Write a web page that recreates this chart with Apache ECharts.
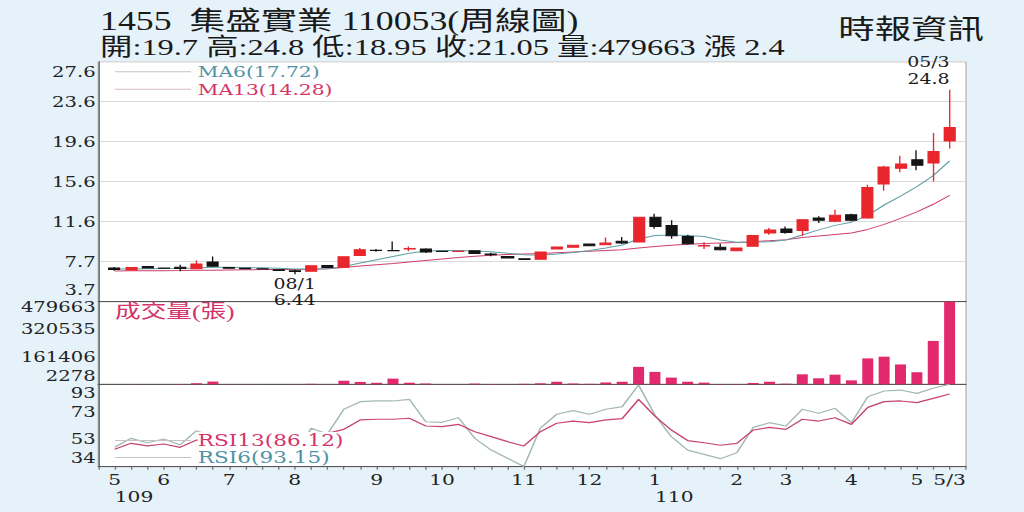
<!DOCTYPE html>
<html>
<head>
<meta charset="utf-8">
<title>1455 集盛實業 周線圖</title>
<script src="https://cdn.jsdelivr.net/npm/echarts@6/dist/echarts.min.js"></script>
<style>
html, body { margin: 0; padding: 0; background: #e6f2f9; overflow: hidden; }
#kline { height: 512px; transform-origin: 0 0; }
</style>
</head>
<body>
<div id="kline"></div>
<script>
// week ending dates, the last candle is the single day 05/03
var weeks = ['2020-05-16','2020-05-23','2020-05-30','2020-06-06','2020-06-13','2020-06-20','2020-06-27','2020-07-04','2020-07-11','2020-07-18',
  '2020-07-25','2020-08-01','2020-08-08','2020-08-15','2020-08-22','2020-08-29','2020-09-05','2020-09-12','2020-09-19','2020-09-26',
  '2020-10-03','2020-10-10','2020-10-17','2020-10-24','2020-10-31','2020-11-07','2020-11-14','2020-11-21','2020-11-28','2020-12-05',
  '2020-12-12','2020-12-19','2020-12-26','2021-01-02','2021-01-09','2021-01-16','2021-01-23','2021-01-30','2021-02-06','2021-02-13',
  '2021-02-20','2021-02-27','2021-03-06','2021-03-13','2021-03-20','2021-03-27','2021-04-03','2021-04-10','2021-04-17','2021-04-24',
  '2021-05-01','2021-05-03'];

var opens = [7.05,6.85,7.2,7.05,7.12,6.99,7.65,7.1,7.02,6.98, 6.88,6.78,6.72,7.3,7.12,8.31,8.82,8.8,8.95,8.95,
  8.72,8.69,8.78,8.45,8.2,7.98,7.92,8.95,9.11,9.45, 9.38,9.71,9.65,12.1,11.3,10.2,9.25,9.11,8.78,9.21,
  10.54,10.94,10.8,12.04,11.7,12.37,12.04,15.42,16.98,17.84, 17.51,19.7];
var closes = [6.9,7.1,7.05,7.03,7.0,7.45,7.22,7.04,6.98,6.95, 6.8,6.7,7.28,7.1,8.18,8.88,8.8,8.78,8.99,8.66,
  8.7,8.73,8.51,8.38,8.06,7.9,8.65,9.15,9.31,9.28, 9.55,9.55,12.1,11.2,10.27,9.48,9.3,8.88,9.05,10.3,
  10.84,10.6,11.87,11.8,12.3,11.8,15.08,17.12,17.42,17.28, 18.65,21.05];
var lows = [6.78,6.82,7.0,6.98,6.72,6.95,7.15,7.0,6.95,6.92, 6.76,6.44,6.7,7.05,7.08,8.28,8.68,8.74,8.72,8.55,
  8.66,8.66,8.45,8.22,8.0,7.85,7.88,8.92,9.08,9.25, 9.35,9.45,9.6,10.97,9.97,9.38,8.95,8.81,8.75,9.18,
  10.37,10.47,10.27,11.54,11.62,11.72,11.95,14.76,16.58,16.78, 15.68,18.95];
var highs = [7.15,7.16,7.26,7.08,7.38,7.81,8.2,7.12,7.05,7.0, 6.9,6.88,7.32,7.35,8.22,9.05,8.95,9.7,9.2,9.02,
  8.75,8.78,8.8,8.58,8.25,8.02,8.7,9.2,9.35,9.5, 10.1,10.14,12.15,12.46,11.8,10.37,9.61,9.48,9.1,10.35,
  11.04,11.2,11.94,12.2,12.86,12.46,15.35,17.25,18.24,18.77, 20.5,24.8];

var ma6 = [6.95,6.96,6.98,7.0,7.02,7.05,7.12,7.12,7.1,7.08, 7.02,6.95,6.95,6.98,7.2,7.55,7.88,8.2,8.52,8.75,
  8.8,8.8,8.76,8.68,8.52,8.38,8.32,8.45,8.6,8.8, 9.05,9.35,9.95,10.3,10.35,10.3,10.2,9.85,9.62,9.62,
  9.68,9.85,10.35,10.85,11.3,11.62,12.3,13.33,14.22,15.15, 16.25,17.72];
var ma13 = [6.76,6.77,6.78,6.79,6.8,6.82,6.84,6.86,6.88,6.9, 6.9,6.9,6.92,6.98,7.1,7.25,7.38,7.5,7.65,7.8,
  7.95,8.1,8.22,8.32,8.4,8.45,8.5,8.58,8.65,8.72, 8.8,8.88,9.05,9.2,9.32,9.42,9.5,9.55,9.6,9.68,
  9.78,9.88,10.1,10.25,10.4,10.55,10.9,11.4,12.0,12.65, 13.4,14.28];

var volumes = [2278,3000,2500,2800,4000,8500,18000,3500,3000,2600, 2500,3500,5000,3500,23000,16000,11000,35000,11500,7000,
  3500,3000,6500,4000,3000,5000,8000,17000,7000,5000, 13000,17000,103000,74000,41000,17000,12000,4000,4000,10000,
  17000,6000,60000,37000,58000,25000,152000,162000,117000,72000, 253000,479663];

var rsi6 = [47.6,54.1,50.9,53.6,49.3,59.6,55.3,50,48,47, 44,41,61.4,57.2,75.1,80.6,81.1,81.1,82.3,66.1,
  65.7,69.0,54.1,45.6,39.7,33.8,61.5,71.5,74.1,71.5, 75.1,77.0,92.6,71.0,55.3,45.6,42.5,39.4,43.7,62.0,
  65.4,63.0,75.1,72.2,75.8,65.4,84.2,88.3,89.0,86.6, 90.3,93.15];
var rsi13 = [46.2,50.5,48.6,50.0,47.6,52.9,52,50,49.5,49, 47.5,46,56,57.7,60.6,67.4,67.9,67.9,68.6,63.0,
  62.5,64.2,58.9,55.3,51.7,48.6,58.9,65.0,66.6,65.4, 67.4,68.3,82.3,70.2,60.1,52.5,50.9,49.1,50.5,60.1,
  62.0,60.6,67.9,66.6,69.0,64.2,76.5,80.6,81.1,79.9, 83.0,86.12];

var monthTickIdx = [0,3,7,11,16,20,25,29,33,38,41,45,49,51];
var monthTickText = ['5','6','7','8','9','10','11','12','1','2','3','4','5','5/3'];
var yearTickIdx = [0,33];
var yearTickText = ['109','110'];

var priceTicks = ['3.7','7.7','11.6','15.6','19.6','23.6','27.6'];
var volumeTicks = ['2278','161406','320535','479663'];
var rsiTicks = ['34','53','73','93'];

// the reference picture is stretched sideways, so is this one
var S = 1.35;
var W = 1024 / S;
function sx(px) { return px / S; }

var NUM_FONT = 'DejaVu Serif';
var CJK_FONT = '"Liberation Serif", "Noto Sans CJK TC"';
var PINK = '#d4346a';
var TEAL = '#4f93a5';

var candles = opens.map(function (o, i) { return [o, closes[i], lows[i], highs[i]]; });

function yLabels(list, min, max, padTop, padBottom) {
  var step = (max - min) / (list.length - 1);
  var base = { fontFamily: NUM_FONT, fontSize: 14.5, lineHeight: 14, color: '#222' };
  return {
    fontFamily: NUM_FONT, fontSize: 14.5, lineHeight: 14, color: '#222', margin: 2,
    formatter: function (v) {
      var k = Math.round((v - min) / step);
      var t = list[k];
      if (t == null) return '';
      if (k === list.length - 1 && padTop) return '{hi|' + t + '}';
      if (k === 0 && padBottom) return '{lo|' + t + '}';
      return t;
    },
    rich: {
      hi: Object.assign({ padding: [padTop, 0, 0, 0] }, base),
      lo: Object.assign({ padding: [0, 0, padBottom, 0] }, base)
    }
  };
}

function pick(idx, text) {
  return function (value) {
    var k = idx.indexOf(weeks.indexOf(value));
    return k < 0 ? '' : text[k];
  };
}

var gridBase = { left: sx(98.3), right: W - sx(966), show: true, backgroundColor: '#fff', borderColor: '#b5b5b5', borderWidth: 1 };

function xAxisFor(gridIndex) {
  return {
    type: 'category', gridIndex: gridIndex, data: weeks, boundaryGap: false, min: -1, max: weeks.length,
    axisLine: { lineStyle: { color: '#555' } }, axisTick: { show: false }, axisLabel: { show: false }, splitLine: { show: false }
  };
}

var bottomAxis = xAxisFor(2);
bottomAxis.axisTick = { show: true, interval: 0, length: 3, lineStyle: { color: '#777' } };
bottomAxis.axisLabel = { interval: 0, fontFamily: NUM_FONT, fontSize: 15, lineHeight: 15, color: '#222', margin: 5, formatter: pick(monthTickIdx, monthTickText) };

var yearAxis = xAxisFor(2);
yearAxis.position = 'bottom';
yearAxis.axisLine = { show: false };
yearAxis.axisLabel = { interval: 0, align: 'left', fontFamily: NUM_FONT, fontSize: 15, lineHeight: 15, color: '#222', margin: 22, formatter: pick(yearTickIdx, yearTickText) };

var ma6Name = 'MA6(' + ma6[ma6.length - 1].toFixed(2) + ')';
var ma13Name = 'MA13(' + ma13[ma13.length - 1].toFixed(2) + ')';
var rsi6Name = 'RSI6(' + rsi6[rsi6.length - 1].toFixed(2) + ')';
var rsi13Name = 'RSI13(' + rsi13[rsi13.length - 1].toFixed(2) + ')';

var box = document.getElementById('kline');
box.style.width = W + 'px';
box.style.transform = 'scaleX(' + S + ')';
var myChart = echarts.init(box, null, { renderer: 'svg', width: W, height: 512 });

myChart.setOption({
  animation: false,
  title: [
    { text: '1455  集盛實業 110053(周線圖)', left: sx(100), top: 8, padding: 0,
      textStyle: { fontFamily: CJK_FONT, fontSize: 26.5, fontWeight: 'normal', color: '#1a1a1a' } },
    { text: '開:19.7 高:24.8 低:18.95 收:21.05 量:479663 漲 2.4', left: sx(100), top: 35, padding: 0,
      textStyle: { fontFamily: CJK_FONT, fontSize: 24, fontWeight: 'normal', color: '#1a1a1a' } },
    { text: '時報資訊', right: sx(40), top: 14, padding: 0,
      textStyle: { fontFamily: '"Noto Sans CJK TC"', fontSize: 27, fontWeight: 'normal', color: '#1a1a1a' } },
    { text: '成交量(張)', left: sx(115), top: 302, padding: 0,
      textStyle: { fontFamily: CJK_FONT, fontSize: 19, fontWeight: 'normal', color: PINK } }
  ],
  legend: [
    { left: sx(115), top: 63, orient: 'vertical', icon: 'rect', itemWidth: sx(76), itemHeight: 1, itemGap: 0, padding: 0,
      selectedMode: false,
      textStyle: { fontFamily: NUM_FONT, fontSize: 15, lineHeight: 17.5 },
      data: [
        { name: ma6Name, itemStyle: { color: '#c4c4c4' }, textStyle: { color: TEAL } },
        { name: ma13Name, itemStyle: { color: '#d6b8c2' }, textStyle: { color: PINK } }
      ] },
    { left: sx(115), top: 432, orient: 'vertical', icon: 'rect', itemWidth: sx(76), itemHeight: 1, itemGap: 0, padding: 0,
      selectedMode: false,
      textStyle: { fontFamily: NUM_FONT, fontSize: 16, lineHeight: 17, backgroundColor: '#fff' },
      data: [
        { name: rsi13Name, itemStyle: { color: '#c4c4c4' }, textStyle: { color: PINK } },
        { name: rsi6Name, itemStyle: { color: '#c4c4c4' }, textStyle: { color: TEAL } }
      ] }
  ],
  grid: [
    Object.assign({ top: 61.7, height: 240 }, gridBase),
    Object.assign({ top: 301.7, height: 82.6 }, gridBase),
    Object.assign({ top: 384.3, height: 82.4 }, gridBase)
  ],
  xAxis: [xAxisFor(0), xAxisFor(1), bottomAxis, yearAxis],
  yAxis: [
    { type: 'value', gridIndex: 0, min: 3.7, max: 27.6, interval: (27.6 - 3.7) / 6,
      axisLine: { show: true, lineStyle: { color: '#666' } }, axisTick: { show: false },
      splitLine: { show: true, lineStyle: { color: '#dadada' } },
      axisLabel: yLabels(priceTicks, 3.7, 27.6, 20, 24) },
    { type: 'value', gridIndex: 1, min: 2278, max: 479663, interval: (479663 - 2278) / 3,
      axisLine: { show: true, lineStyle: { color: '#666' } }, axisTick: { show: false }, splitLine: { show: false },
      axisLabel: yLabels(volumeTicks, 2278, 479663, 10, 16) },
    { type: 'value', gridIndex: 2, min: 33.6, max: 93.15, interval: (93.15 - 33.6) / 3,
      axisLine: { show: true, lineStyle: { color: '#666' } }, axisTick: { show: false }, splitLine: { show: false },
      axisLabel: yLabels(rsiTicks, 33.6, 93.15, 17, 17) }
  ],
  series: [
    { name: ma13Name, type: 'line', xAxisIndex: 0, yAxisIndex: 0, data: ma13, symbol: 'none', z: 2,
      lineStyle: { color: '#cf3f6c', width: 1 } },
    { name: ma6Name, type: 'line', xAxisIndex: 0, yAxisIndex: 0, data: ma6, symbol: 'none', z: 2,
      lineStyle: { color: '#5f9fa6', width: 1 } },
    { name: 'K', type: 'candlestick', xAxisIndex: 0, yAxisIndex: 0, data: candles, barWidth: sx(11.5), z: 3,
      itemStyle: { color: '#e8262c', color0: '#141414', borderColor: '#e8262c', borderColor0: '#141414', borderWidth: 1 },
      markPoint: {
        symbol: 'circle', symbolSize: 1, itemStyle: { color: 'rgba(0,0,0,0)' },
        label: { fontFamily: NUM_FONT, fontSize: 14, color: '#1a1a1a' },
        data: [
          { coord: [weeks[11], 6.44], label: { position: 'bottom', distance: 2, lineHeight: 15.5, formatter: '08/1\n6.44' } },
          { coord: [weeks[51], 24.8], label: { position: 'top', align: 'right', distance: 1, lineHeight: 17, formatter: '05/3\n24.8' } }
        ]
      } },
    { name: '成交量', type: 'bar', xAxisIndex: 1, yAxisIndex: 1, data: volumes, barWidth: sx(11),
      itemStyle: { color: '#e2296e' } },
    { name: rsi6Name, type: 'line', xAxisIndex: 2, yAxisIndex: 2, data: rsi6, symbol: 'none',
      lineStyle: { color: '#a3b7b7', width: 1.2 } },
    { name: rsi13Name, type: 'line', xAxisIndex: 2, yAxisIndex: 2, data: rsi13, symbol: 'none',
      lineStyle: { color: '#c8456f', width: 1.2 } }
  ]
});
</script>
</body>
</html>
